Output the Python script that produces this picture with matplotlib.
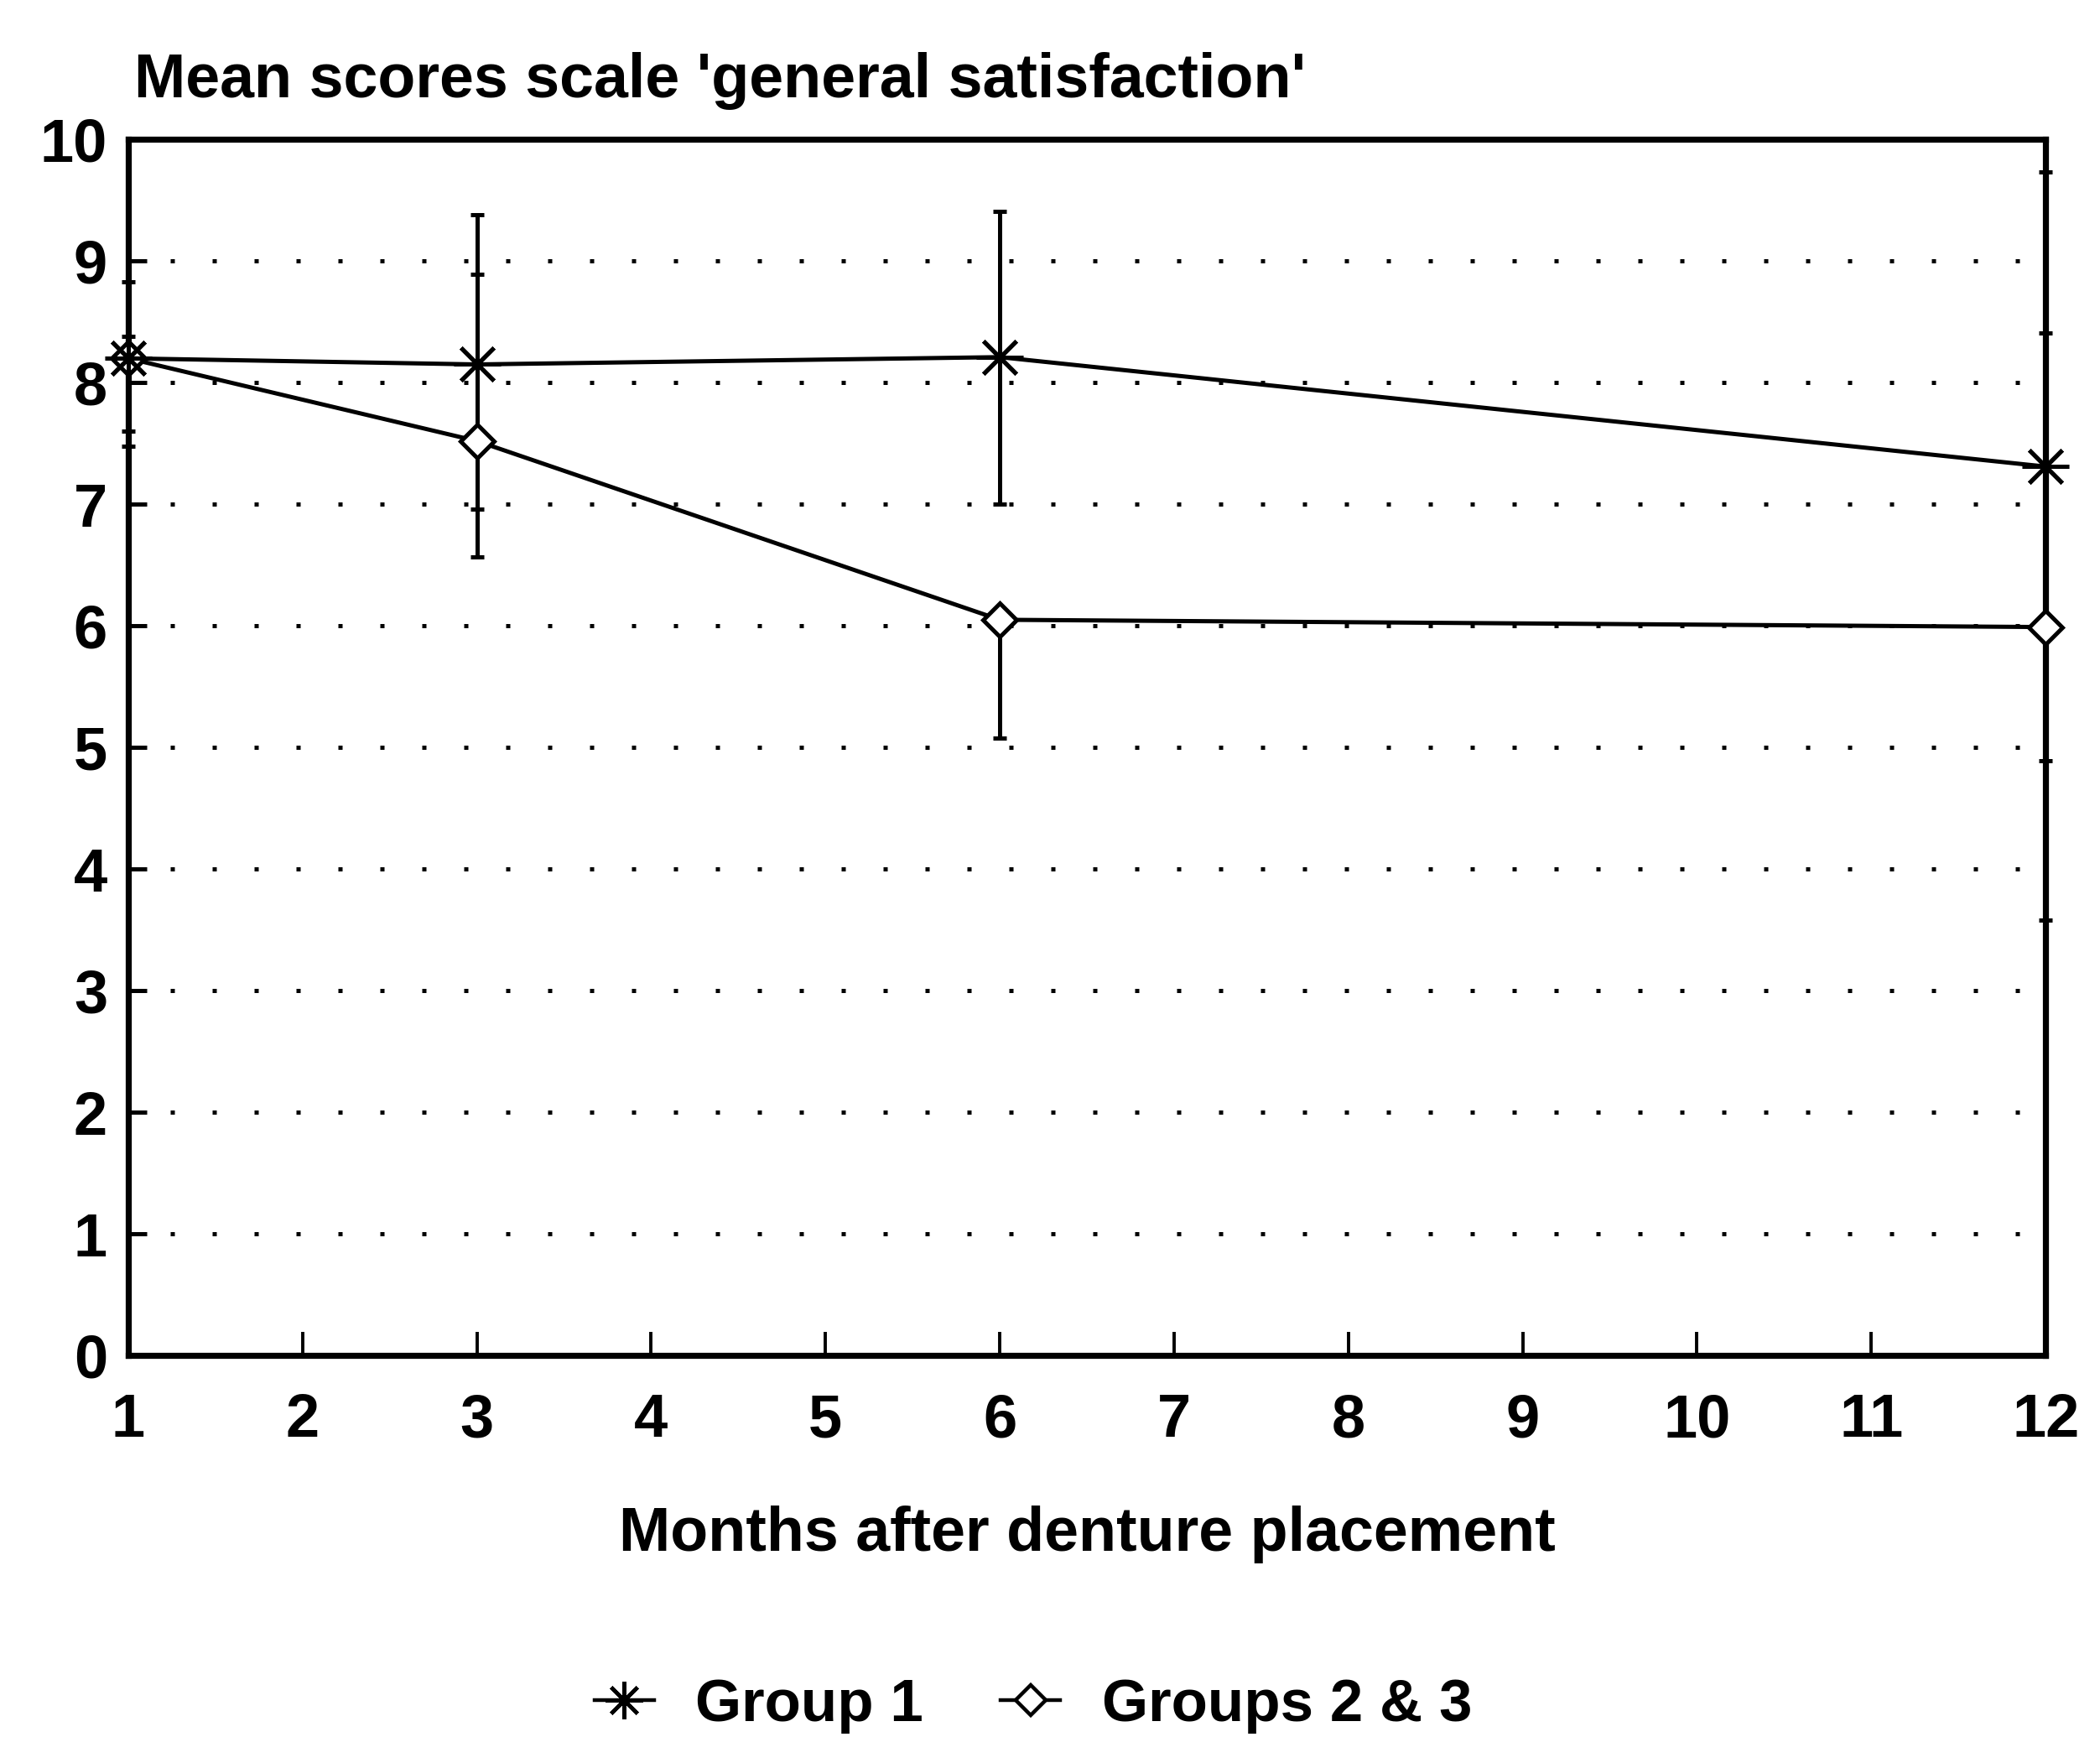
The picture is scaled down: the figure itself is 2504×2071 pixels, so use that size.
import matplotlib
matplotlib.use('Agg')
import matplotlib.pyplot as plt
from matplotlib.lines import Line2D

# values
months = [1, 3, 6, 12]
x_ticks = list(range(1, 13))
y_ticks = list(range(0, 11))

group1_mean = [8.20, 8.15, 8.21, 7.31]
group1_low = [7.48, 6.96, 7.00, 4.89]
group1_high = [8.83, 9.38, 9.41, 9.73]

group23_mean = [8.20, 7.52, 6.05, 5.99]
group23_low = [7.60, 6.57, 5.08, 3.58]
group23_high = [8.38, 8.89, 6.05, 8.41]

title = "Mean scores scale 'general satisfaction'"
xlabel = 'Months after denture placement'
labels = ['Group 1', 'Groups 2 & 3']

plt.rcParams['font.family'] = ['Liberation Sans', 'DejaVu Sans']
plt.rcParams['font.weight'] = 'bold'

fig = plt.figure(figsize=(12.52, 10.355), dpi=200)
ax = fig.add_axes([0.0611, 0.2197, 0.913, 0.700])

asterisk = (8, 2, 0)

def draw(mean, low, high, marker, face, size):
    lower = [m - l for m, l in zip(mean, low)]
    upper = [h - m for m, h in zip(mean, high)]
    ax.errorbar(months, mean, yerr=[lower, upper], fmt='none', ecolor='black',
                elinewidth=1.8, capsize=3, capthick=1.8, clip_on=False, zorder=3)
    ax.plot(months, mean, color='black', linewidth=1.8, marker=marker,
            markersize=size, markerfacecolor=face, markeredgecolor='black',
            markeredgewidth=1.8, clip_on=False, zorder=4)

draw(group23_mean, group23_low, group23_high, 'D', 'white', 10)
draw(group1_mean, group1_low, group1_high, asterisk, 'black', 20)

ax.set_xlim(1, 12)
ax.set_ylim(0, 10)
ax.set_xticks(x_ticks)
ax.set_yticks(y_ticks)
ax.tick_params(axis='x', direction='in', length=10, width=1.4, labelsize=26, pad=16)
ax.tick_params(axis='y', direction='in', length=8, width=1.8, labelsize=26, pad=9)
ax.yaxis.grid(True, linestyle=(0, (1, 9)), linewidth=1.8, color='black')
ax.set_axisbelow(True)
for s in ax.spines.values():
    s.set_linewidth(2.6)

ax.set_title(title, loc='left', fontsize=26.5, fontweight='bold', pad=18, x=0.003)
ax.set_xlabel(xlabel, fontsize=26.5, fontweight='bold', labelpad=24)

handles = [
    Line2D([], [], color='black', linewidth=1.6, marker=asterisk, markersize=16,
           markeredgewidth=1.6),
    Line2D([], [], color='black', linewidth=1.6, marker='D', markersize=9,
           markerfacecolor='white', markeredgewidth=1.6),
]
fig.legend(handles, labels, loc='center', bbox_to_anchor=(0.492, 0.018), ncol=2,
           frameon=False, fontsize=25.5, handlelength=1.0, columnspacing=1.3,
           handletextpad=0.7)

fig.savefig('out.png', dpi=200, facecolor='white')
